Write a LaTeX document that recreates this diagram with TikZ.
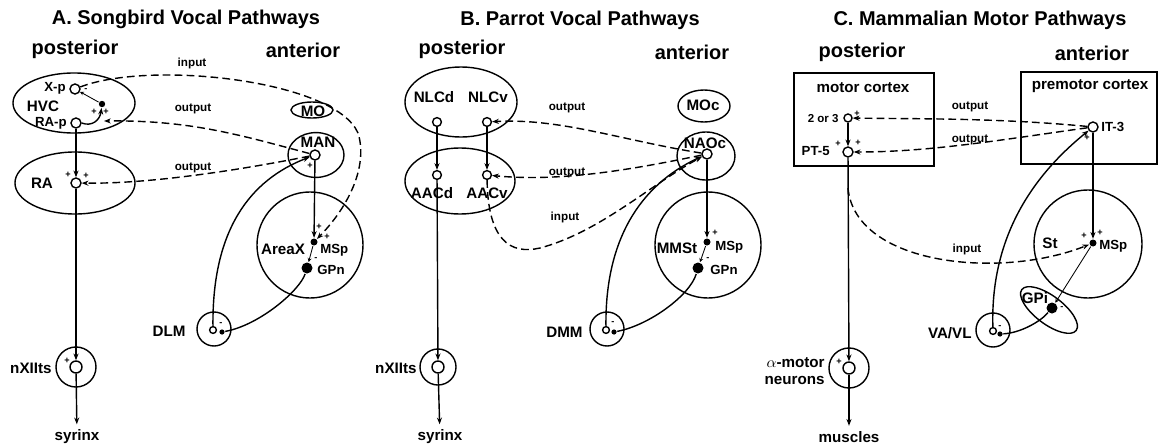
\documentclass[tikz,border=0pt]{standalone}
\usepackage{fontspec}
\setmainfont{Liberation Sans}
\usetikzlibrary{shapes.geometric,arrows.meta,positioning}

\begin{document}
\begin{tikzpicture}[x=0.025cm,y=-0.025cm,>={Stealth[length=4.8pt,width=3.6pt]},line width=1pt,
  heading/.style={font=\fontsize{14.2}{16}\selectfont\bfseries},
  nucleus/.style={draw,ellipse,inner sep=0pt},
  ring/.style={draw,circle,inner sep=0pt},
  cortex/.style={draw,rectangle,inner sep=0pt},
  regname/.style={font=\fontsize{10.8}{12}\selectfont\bfseries,inner sep=0.5pt},
  cellname/.style={font=\fontsize{9.4}{11}\selectfont\bfseries,inner sep=0.5pt},
  route/.style={font=\fontsize{8.3}{10}\selectfont\bfseries,inner sep=0.5pt},
  sign/.style={font=\fontsize{6.5}{7}\selectfont\bfseries,inner sep=0pt},
  cell/.style={circle,draw,fill=white,inner sep=0pt,minimum size=0.25cm},
  soma/.style={circle,fill,inner sep=0pt,minimum size=0.175cm},
  bigsoma/.style={soma,minimum size=0.275cm},
  proj/.style={dash pattern=on 5.5pt off 3pt},
  syn/.style={line width=0.6pt,-{Stealth[length=2.8pt,width=2.8pt]}}]

\useasboundingbox (0,0) rectangle (1160,447);

% A. songbird
\node[heading] (titA) at (186,19) {A. Songbird Vocal Pathways};
\node[heading] (postA) at (75,49) {posterior};
\node[heading] (antA) at (303,50) {anterior};

\node[nucleus,minimum width=3.05cm,minimum height=1.5cm] (hvc) at (74,103) {};
\node[nucleus,minimum width=3cm,minimum height=1.55cm] (ra) at (75,183) {};
\node[nucleus,minimum width=1.05cm,minimum height=0.4cm] (mo) at (312,110) {};
\node[nucleus,minimum width=1.4cm,minimum height=1.12cm] (man) at (316,155) {};
\node[ring,minimum size=2.65cm] (areax) at (310,245) {};
\node[ring,minimum size=0.85cm] (dlm) at (214,329) {};
\node[ring,minimum size=1cm] (nxA) at (76,367) {};

\node[regname] (hvcT) at (43,106) {HVC};
\node[regname] (raT) at (42,183) {RA};
\node[regname] (moT) at (313,111) {MO};
\node[regname] (manT) at (318,142) {MAN};
\node[regname] (areaxT) at (283,249) {AreaX};
\node[regname,anchor=east] (dlmT) at (187,331) {DLM};
\node[regname,anchor=east] (nxAT) at (53,368) {nXIIts};
\node[regname] (syrA) at (77,437) {syrinx};

\node[cell] (xp) at (75,89) {};
\node[cellname,anchor=east] (xpT) at (67,88) {X-p};
\node[cell] (rap) at (76,123) {};
\node[cellname,anchor=east] (rapT) at (68,123) {RA-p};
\node[soma,minimum size=0.16cm] (inter) at (102,104) {};
\node[cell] (raC) at (76,183) {};
\node[cell] (manC) at (315,155) {};
\node[soma] (mspA) at (314,242) {};
\node[cellname,anchor=west] (mspAT) at (319,250) {MSp};
\node[bigsoma] (gpnA) at (307,268) {};
\node[cellname,anchor=west] (gpnAT) at (316,270) {GPn};
\node[cell,minimum size=0.17cm] (dlmC) at (213,330) {};
\node[soma,minimum size=0.13cm] (dlmE) at (222,332) {};
\node[cell,minimum size=0.3cm] (nxAC) at (76,367) {};
\coordinate (outA) at (104,121);

\foreach \x/\y/\s [count=\i] in {86/90/-,94/112/+,106/112/+,68/175/+,86/176/+,310/166/+,319/227/+,327/237/+,316/259/-,221/324/-,67/361/+}
  \node[sign] (sA\i) at (\x,\y) {\s};

\draw[->] (rap) -- (raC);
\draw[->] (raC) -- (nxAC);
\draw[->,shorten >=3pt] (nxAC) -- (syrA);
\draw[->] (rap.east) .. controls (92,127) and (100,120) .. (inter);
\draw[syn] (inter) -- (xp);
\draw[->] (manC) -- (mspA);
\draw[syn] (mspA) -- (gpnA);
\draw (gpnA) .. controls (300,290) and (260,325) .. (dlmE);
\draw[->] (dlmC) .. controls (212,230) and (250,180) .. (manC);
\draw[proj,->] (xp) .. controls (150,60) and (335,80) .. (358,133) .. controls (368,165) and (350,205) .. (mspA);
\draw[proj,->] (manC) .. controls (240,135) and (190,120) .. (outA);
\draw[proj,->] (manC) .. controls (240,170) and (150,184) .. (raC);
\node[route] (inAT) at (192,63) {input};
\node[route] (outAT1) at (193,109) {output};
\node[route] (outAT2) at (193,168) {output};

% B. parrot
\node[heading] (titB) at (580,20) {B. Parrot Vocal Pathways};
\node[heading] (postB) at (462,49) {posterior};
\node[heading] (antB) at (692,52) {anterior};

\node[nucleus,minimum width=2.8cm,minimum height=1.75cm] (nlc) at (461,102) {};
\node[nucleus,minimum width=2.75cm,minimum height=1.65cm] (aac) at (460,181) {};
\node[nucleus,minimum width=1.3cm,minimum height=0.8cm] (moc) at (704,106) {};
\node[nucleus,minimum width=1.45cm,minimum height=1.2cm] (naoc) at (706,156) {};
\node[ring,minimum size=2.65cm] (mmst) at (708,245) {};
\node[ring,minimum size=0.85cm] (dmm) at (607,329) {};
\node[ring,minimum size=0.9cm] (nxB) at (438,367) {};

\node[regname] (nlcdT) at (434,97) {NLCd};
\node[regname] (nlcvT) at (488,97) {NLCv};
\node[regname] (aacdT) at (432,193) {AACd};
\node[regname] (aacvT) at (487,193) {AACv};
\node[regname] (mocT) at (703,105) {MOc};
\node[regname] (naocT) at (705,143) {NAOc};
\node[regname] (mmstT) at (677,248) {MMSt};
\node[regname,anchor=east] (dmmT) at (584,332) {DMM};
\node[regname,anchor=east] (nxBT) at (418,368) {nXIIts};
\node[regname] (syrB) at (440,437) {syrinx};

\node[cell,minimum size=0.22cm] (nlcdC) at (437,122) {};
\node[cell,minimum size=0.22cm] (nlcvC) at (487,122) {};
\node[cell,minimum size=0.22cm] (aacdC) at (437,175) {};
\node[cell,minimum size=0.22cm] (aacvC) at (487,175) {};
\node[cell] (naocC) at (707,154) {};
\node[soma] (mspB) at (707,242) {};
\node[cellname,anchor=west] (mspBT) at (714,247) {MSp};
\node[bigsoma] (gpnB) at (698,268) {};
\node[cellname,anchor=west] (gpnBT) at (709,270) {GPn};
\node[cell,minimum size=0.17cm] (dmmC) at (606,330) {};
\node[soma,minimum size=0.13cm] (dmmE) at (614,332) {};
\node[cell,minimum size=0.3cm] (nxBC) at (438,367) {};

\foreach \x/\y/\s [count=\i] in {715/233/+,708/259/-,613/323/-}
  \node[sign] (sB\i) at (\x,\y) {\s};

\draw[->] (nlcdC) -- (aacdC);
\draw[->] (nlcvC) -- (aacvC);
\draw[->] (aacdC) -- (nxBC);
\draw[->,shorten >=3pt] (nxBC) -- (syrB);
\draw[->] (naocC) -- (mspB);
\draw[syn] (mspB) -- (gpnB);
\draw (gpnB) .. controls (690,295) and (650,325) .. (dmmE);
\draw[->] (dmmC) .. controls (605,240) and (640,185) .. (naocC);
\draw[proj,->] (naocC) .. controls (620,140) and (560,118) .. (nlcvC);
\draw[proj,->] (naocC) .. controls (630,170) and (560,182) .. (aacvC);
\draw[proj,->] (aacvC) .. controls (488,240) and (510,255) .. (540,248) .. controls (600,232) and (650,185) .. (naocC);
\node[route] (outBT1) at (567,108) {output};
\node[route] (outBT2) at (567,173) {output};
\node[route] (inBT) at (565,217) {input};

% C. mammal
\node[heading] (titC) at (980,20) {C. Mammalian Motor Pathways};
\node[heading] (postC) at (862,52) {posterior};
\node[heading] (antC) at (1092,53) {anterior};

\node[cortex,minimum width=3.5cm,minimum height=2.325cm] (mctx) at (864,119.5) {};
\node[cortex,minimum width=3.4cm,minimum height=2.3cm] (pmctx) at (1089,118) {};
\node[ring,minimum size=2.7cm] (st) at (1088,244) {};
\node[nucleus,minimum width=1.7cm,minimum height=0.7cm,rotate=-37] (gpi) at (1049,310) {};
\node[ring,minimum size=0.85cm] (vavl) at (993,330) {};
\node[ring,minimum size=1cm] (mn) at (849,368) {};

\node[regname] (mctxT) at (863,88) {motor cortex};
\node[regname] (pmctxT) at (1090,86) {premotor cortex};
\node[regname] (stT) at (1050,243) {St};
\node[regname] (gpiT) at (1035,298) {GPi};
\node[regname,anchor=east] (vavlT) at (973,333) {VA/VL};
\node[regname,anchor=east,align=right] (mnT) at (826,371) {$\alpha$-motor\\neurons};
\node[regname] (musC) at (849,437) {muscles};

\node[cell,minimum size=0.2cm] (l23) at (848,118) {};
\node[cellname,anchor=east,font=\fontsize{8.2}{10}\selectfont\bfseries] (l23T) at (840,119) {2 or 3};
\node[cell] (pt5) at (848,152) {};
\node[cellname,anchor=east] (pt5T) at (831,151) {PT-5};
\node[cell] (it3) at (1093,127) {};
\node[cellname,anchor=west] (it3T) at (1100,127) {IT-3};
\node[soma] (mspC) at (1093,243) {};
\node[cellname,anchor=west] (mspCT) at (1098,246) {MSp};
\node[bigsoma] (gpiC) at (1052,308) {};
\node[cell,minimum size=0.17cm] (vavlC) at (993,331) {};
\node[soma,minimum size=0.13cm] (vavlE) at (1000,334) {};
\node[cell,minimum size=0.3cm] (mnC) at (849,368) {};
\coordinate (inC) at (848,188);

\foreach \x/\y/\s [count=\i] in {857/114/+,838/144/+,858/143/+,1087/138/+,1084/236/+,1100/233/+,1062/308/-,1000/327/-,839/362/+}
  \node[sign] (sC\i) at (\x,\y) {\s};

\draw[->] (l23) -- (pt5);
\draw[->] (pt5) -- (mnC);
\draw[->,shorten >=3pt] (mnC) -- (musC);
\draw[->] (it3) -- (mspC);
\draw[syn] (mspC) -- (gpiC);
\draw (gpiC) .. controls (1040,322) and (1020,333) .. (vavlE);
\draw[->] (vavlC) .. controls (990,230) and (1040,170) .. (it3);
\draw[proj,->] (it3) .. controls (1000,118) and (920,119) .. (l23);
\draw[proj,->] (it3) .. controls (1000,140) and (930,152) .. (pt5);
\draw[proj,->] (inC) .. controls (855,265) and (1000,280) .. (mspC);
\node[route] (outCT1) at (970,107) {output};
\node[route] (outCT2) at (970,140) {output};
\node[route] (inCT) at (967,249) {input};
\end{tikzpicture}
\end{document}
